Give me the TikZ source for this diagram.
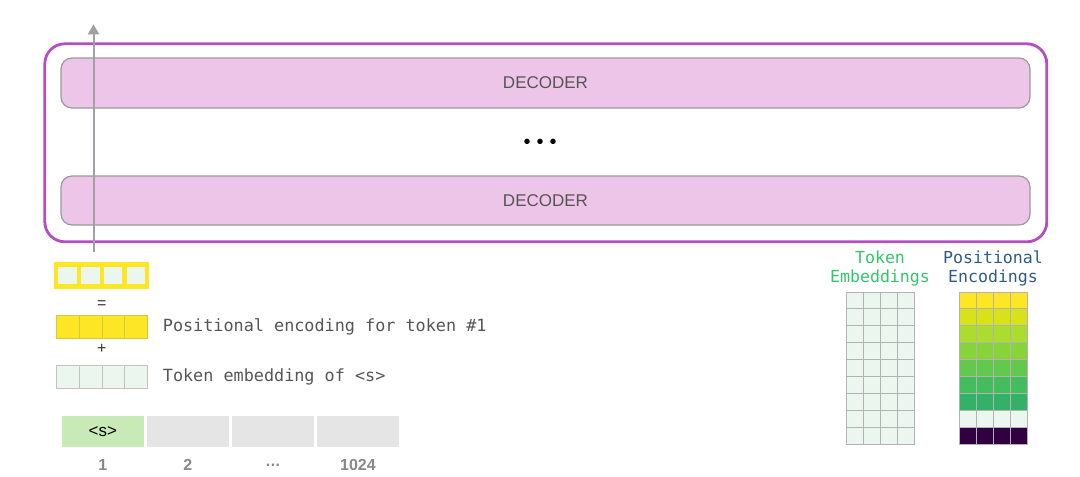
\documentclass[tikz,border=0pt]{standalone}
\usepackage{fontspec}
\setmainfont{Liberation Sans}
\newfontfamily\monof{DejaVu Sans Mono}
\usetikzlibrary{arrows.meta}
\definecolor{pinkfill}{HTML}{EDC5E9}
\definecolor{pinkline}{HTML}{9A9A9A}
\definecolor{purpleline}{HTML}{B24FC6}
\definecolor{arrowgray}{HTML}{9EA1A6}
\definecolor{decotext}{HTML}{555555}
\definecolor{lgreen}{HTML}{EBF6EE}
\definecolor{yel}{HTML}{FDE725}
\definecolor{gridline}{HTML}{B3B3B3}
\definecolor{cellgray}{HTML}{E5E5E5}
\definecolor{sgreen}{HTML}{C8EAB6}
\definecolor{numgray}{HTML}{888888}
\definecolor{textgray}{HTML}{555555}
\definecolor{tokgreen}{HTML}{34C46C}
\definecolor{posblue}{HTML}{305A88}
\begin{document}
\begin{tikzpicture}[x=1pt,y=-1pt,
  outerbox/.style={draw=purpleline, line width=2.8pt, rounded corners=20pt, inner sep=0pt, outer sep=0pt},
  decoder/.style={draw=pinkline, line width=1.2pt, fill=pinkfill, rounded corners=11pt, minimum width=969pt, inner sep=0pt, outer sep=0pt, font=\fontsize{17}{19}\selectfont, text=decotext},
  monotext/.style={font=\monof\fontsize{16.8}{19}\selectfont, text=textgray, anchor=west, inner sep=0pt},
  optext/.style={font=\fontsize{16}{18}\selectfont, text=black!80, inner sep=0pt},
  tokcell/.style={fill=cellgray, minimum width=82.6pt, minimum height=31pt, inner sep=0pt, outer sep=0pt, font=\fontsize{17}{19}\selectfont},
  numlabel/.style={font=\bfseries\fontsize{16}{18}\selectfont, text=numgray, inner sep=0pt},
  gridbox/.style={draw=gridline, line width=1pt, inner sep=0pt, outer sep=0pt},
  cellline/.style={draw=gridline, line width=0.9pt},
  headtext/.style={font=\monof\fontsize{16.6}{19}\selectfont, align=center, inner sep=0pt}
]
\useasboundingbox (0,0) rectangle (1080,477);

% decoder stack
\node[outerbox, minimum width=1002pt, minimum height=198pt] (stack) at (545.8,142.8) {};
\node[decoder, minimum height=50pt] (dec2) at (545.5,83) {DECODER};
\node[decoder, minimum height=49pt] (dec1) at (545.5,200.5) {DECODER};
\node[font=\fontsize{20}{22}\selectfont, inner sep=0pt] (dots) at (540,144) {•\hspace{6pt}•\hspace{6pt}•};

% sum vector (yellow bordered)
\node[fill=yel, minimum width=95.3pt, minimum height=27pt, inner sep=0pt, outer sep=0pt] (sumvec) at (101.7,275.8) {};
\foreach \k in {0,...,3}
  \fill[lgreen] (58.3+22.75*\k,267.3) rectangle ++(18.5,17);

% arrow up through the stack
\coordinate (arrowtop) at (93.5,24.3);
\draw[arrowgray, line width=2pt, -{Triangle[width=11pt,length=10pt]}]
  ([xshift=-8.2pt,yshift=10pt]sumvec.north) -- (arrowtop);

\node[optext] (eq) at (101.7,305) {=};

% positional encoding vector
\node[fill=yel, minimum width=90.6pt, minimum height=23.3pt, inner sep=0pt, outer sep=0pt] (posvec) at (102,326.7) {};
\foreach \k in {0,...,3}
  \draw[draw=yel!70!gray, line width=0.9pt] (56.7+22.65*\k,315) rectangle ++(22.65,23.3);
\node[monotext] (postext) at (162.7,327) {Positional encoding for token \#1};

\node[optext] (plus) at (101.7,349) {+};

% token embedding vector
\node[fill=lgreen, minimum width=90.6pt, minimum height=23pt, inner sep=0pt, outer sep=0pt] (tokvec) at (102,376.5) {};
\foreach \k in {0,...,3}
  \draw[draw=gridline!80, line width=0.9pt] (56.7+22.65*\k,365) rectangle ++(22.65,23);
\node[monotext] (toktext) at (162.7,377) {Token embedding of <s>};

% input sequence
\node[tokcell, fill=sgreen] (c1) at (102.8,431.5) {<s>};
\node[tokcell] (c2) at (187.9,431.5) {};
\node[tokcell] (c3) at (273,431.5) {};
\node[tokcell] (c4) at (357.9,431.5) {};
\node[numlabel] (n1) at ([yshift=-18pt]c1.south) {1};
\node[numlabel] (n2) at ([yshift=-18pt]c2.south) {2};
\node[numlabel] (n3) at ([yshift=-18pt]c3.south) {.\kern0.5pt.\kern0.5pt.};
\node[numlabel] (n4) at ([yshift=-18pt]c4.south) {1024};

% token embeddings matrix
\foreach \r in {0,...,8}
  \foreach \k in {0,...,3}
    \draw[cellline, fill=lgreen] (846.7+16.83*\k,292+16.89*\r) rectangle ++(16.83,16.89);
\node[gridbox, minimum width=67.3pt, minimum height=152pt] (tokgrid) at (880.35,368) {};
\node[headtext, text=tokgreen] (tokhead) at (880,268.5) {Token\\Embeddings};

% positional encodings matrix
\foreach \c [count=\r from 0] in {FDE725,D8E219,ADDC30,86D33A,62C94E,44BD5F,33B166,EAF6EE,310043}{
  \definecolor{rowc}{HTML}{\c}
  \foreach \k in {0,...,3}
    \draw[cellline, fill=rowc] (959.3+16.93*\k,292+16.89*\r) rectangle ++(16.93,16.89);
}
\node[gridbox, minimum width=67.7pt, minimum height=152pt] (posgrid) at (993.15,368) {};
\node[headtext, text=posblue] (poshead) at (993,268.5) {Positional\\Encodings};
\end{tikzpicture}
\end{document}
